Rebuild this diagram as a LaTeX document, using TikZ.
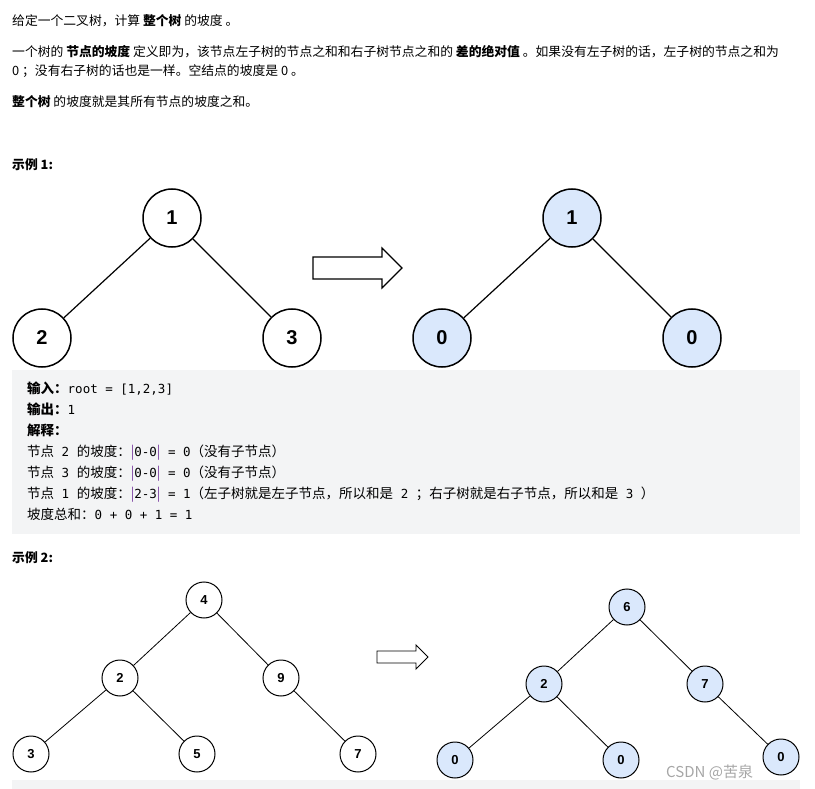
\documentclass[tikz,border=0pt]{standalone}
\usepackage{fontspec}
\setmainfont{Liberation Sans}
\setmonofont{DejaVu Sans Mono}
\newfontfamily\cjk{Noto Sans CJK SC}
\usetikzlibrary{positioning}
\definecolor{codebg}{HTML}{F3F4F5}
\definecolor{nodeblue}{HTML}{DAE8FC}
\definecolor{absbar}{HTML}{7B3FA0}
\tikzset{
  txt/.style={anchor=base west, inner sep=0pt, font=\cjk\fontsize{12.8}{15}\selectfont},
  code/.style={anchor=base west, inner sep=0pt, font=\cjk\fontsize{13.5}{16}\selectfont},
  big/.style={circle, draw, line width=1.5pt, minimum size=58pt, inner sep=0pt, font=\bfseries\fontsize{20}{24}\selectfont},
  small/.style={circle, draw, line width=1pt, minimum size=36pt, inner sep=0pt, font=\bfseries\fontsize{13}{15}\selectfont},
  blue/.style={fill=nodeblue},
  edge/.style={line width=1.2pt},
  hollow/.style={draw, line width=1.2pt, fill=white, line join=miter}
}
\newcommand{\mono}[1]{{\ttfamily\fontsize{12.5}{15}\selectfont #1}}
\begin{document}
\begin{tikzpicture}[x=1pt,y=-1pt]
\useasboundingbox (0,0) rectangle (815,789);
% description
\node[txt] (l1) at (12,26) {给定一个二叉树，计算 \textbf{整个树} 的坡度 。};
\node[txt] (l2) at (12,57) {一个树的 \textbf{节点的坡度} 定义即为，该节点左子树的节点之和和右子树节点之和的 \textbf{差的绝对值} 。如果没有左子树的话，左子树的节点之和为};
\node[txt] (l3) at (12,76) {0 ；没有右子树的话也是一样。空结点的坡度是 0 。};
\node[txt] (l4) at (12,107) {\textbf{整个树} 的坡度就是其所有节点的坡度之和。};
\node[txt] (ex1) at (12,170) {\textbf{示例 1:}};
% example 1
\node[big] (a1) at (172,218) {1};
\node[big] (a2) at (42,338) {2};
\node[big] (a3) at (292,338) {3};
\draw[edge] (a1) -- (a2);
\draw[edge] (a1) -- (a3);
\draw[hollow] (313,257) -- (382,257) -- (382,248) -- (402,268) -- (382,288) -- (382,279) -- (313,279) -- cycle;
\node[big,blue] (b1) at (572,218) {1};
\node[big,blue] (b2) at (442,338) {0};
\node[big,blue] (b3) at (692,338) {0};
\draw[edge] (b1) -- (b2);
\draw[edge] (b1) -- (b3);
% code block
\fill[codebg] (12,370) rectangle (800,534);
\node[code] (c1) at (27,393) {\textbf{输入：}\mono{root = [1,2,3]}};
\node[code] (c2) at (27,414) {\textbf{输出：}\mono{1}};
\node[code] (c3) at (27,435) {\textbf{解释：}};
\node[code] (c4) at (27,456) {节点\mono{ 2 }的坡度：\textcolor{absbar}{|}\mono{0-0}\textcolor{absbar}{|}\mono{ = 0}（没有子节点）};
\node[code] (c5) at (27,477) {节点\mono{ 3 }的坡度：\textcolor{absbar}{|}\mono{0-0}\textcolor{absbar}{|}\mono{ = 0}（没有子节点）};
\node[code] (c6) at (27,498) {节点\mono{ 1 }的坡度：\textcolor{absbar}{|}\mono{2-3}\textcolor{absbar}{|}\mono{ = 1}（左子树就是左子节点，所以和是\mono{ 2 }；右子树就是右子节点，所以和是\mono{ 3 }）};
\node[code] (c7) at (27,519) {坡度总和：\mono{0 + 0 + 1 = 1}};
\node[txt] (ex2) at (12,562) {\textbf{示例 2:}};
% example 2
\node[small] (d4) at (204,600) {4};
\node[small] (d2) at (120,678) {2};
\node[small] (d9) at (281,678) {9};
\node[small] (d3) at (31,754) {3};
\node[small] (d5) at (197,754) {5};
\node[small] (d7) at (358,754) {7};
\draw[line width=0.8pt] (d4) -- (d2);
\draw[line width=0.8pt] (d4) -- (d9);
\draw[line width=0.8pt] (d2) -- (d3);
\draw[line width=0.8pt] (d2) -- (d5);
\draw[line width=0.8pt] (d9) -- (d7);
\draw[hollow, line width=0.9pt] (377,651) -- (416,651) -- (416,645) -- (428,657) -- (416,669) -- (416,663) -- (377,663) -- cycle;
\node[small,blue] (e6) at (627,607) {6};
\node[small,blue] (e2) at (544,684) {2};
\node[small,blue] (e7) at (705,684) {7};
\node[small,blue] (e0a) at (455,760) {0};
\node[small,blue] (e0b) at (621,760) {0};
\draw[line width=0.8pt] (e6) -- (e2);
\draw[line width=0.8pt] (e6) -- (e7);
\draw[line width=0.8pt] (e2) -- (e0a);
\draw[line width=0.8pt] (e2) -- (e0b);
\fill[codebg] (12,780) rectangle (800,789);
\node[small,blue] (e0c) at (781,757) {0};
\draw[line width=0.8pt] (e7) -- (e0c);
\node[anchor=base west, inner sep=0pt, text=gray!70, font=\cjk\fontsize{15}{18}\selectfont] (wm) at (666,777) {CSDN @苦泉};
\end{tikzpicture}
\end{document}
